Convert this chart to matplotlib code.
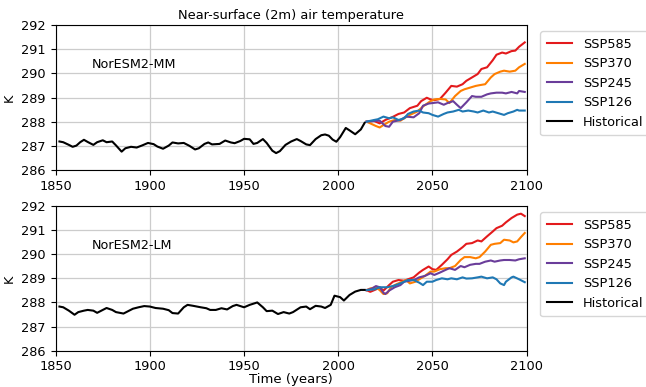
import matplotlib
matplotlib.use("Agg")
import matplotlib.pyplot as plt

plt.rcParams["font.family"] = ["DejaVu Sans"]
plt.rcParams["font.size"] = 9

# ---------------- NorESM2-MM ----------------
mm_hist_years = [1852, 1854, 1857, 1859, 1861, 1863, 1865, 1867, 1870, 1872, 1875, 1877,
                 1880, 1882, 1885, 1887, 1890, 1893, 1896, 1899, 1902, 1904, 1907, 1910,
                 1912, 1915, 1918, 1921, 1924, 1926, 1929, 1931, 1933, 1937, 1940, 1943,
                 1945, 1948, 1950, 1953, 1955, 1957, 1960, 1962, 1965, 1967, 1969, 1972,
                 1975, 1978, 1980, 1983, 1985, 1988, 1991, 1993, 1995, 1997, 1999, 2001,
                 2004, 2006, 2009, 2012, 2014]
mm_hist_temp = [287.18, 287.15, 287.04, 286.96, 287.01, 287.15, 287.25, 287.16, 287.04, 287.15,
                287.23, 287.15, 287.18, 287.02, 286.76, 286.90, 286.96, 286.93, 287.02, 287.12,
                287.07, 286.97, 286.88, 287.01, 287.14, 287.10, 287.12, 287.00, 286.85, 286.90,
                287.08, 287.14, 287.06, 287.08, 287.22, 287.14, 287.11, 287.20, 287.29, 287.27,
                287.08, 287.12, 287.28, 287.12, 286.80, 286.70, 286.78, 287.04, 287.18, 287.28,
                287.20, 287.06, 287.03, 287.28, 287.44, 287.47, 287.42, 287.26, 287.17, 287.36,
                287.74, 287.64, 287.48, 287.68, 287.95]

mm_585_years = [2015, 2019, 2022, 2025, 2029, 2032, 2035, 2038, 2042, 2044, 2047, 2049, 2051,
                2054, 2057, 2060, 2063, 2066, 2068, 2071, 2074, 2076, 2079, 2082, 2084, 2087,
                2089, 2092, 2094, 2096, 2099]
mm_585_temp = [288.00, 288.03, 287.93, 288.07, 288.20, 288.32, 288.38, 288.56, 288.66, 288.85,
               288.99, 288.92, 288.89, 288.94, 289.20, 289.48, 289.45, 289.55, 289.69, 289.83,
               289.97, 290.18, 290.25, 290.54, 290.77, 290.86, 290.82, 290.92, 290.94, 291.10,
               291.28]

mm_370_years = [2015, 2017, 2020, 2022, 2024, 2027, 2030, 2033, 2035, 2038, 2042, 2045, 2049,
                2051, 2054, 2057, 2059, 2062, 2065, 2067, 2070, 2073, 2075, 2078, 2081, 2083,
                2086, 2088, 2091, 2094, 2096, 2099]
mm_370_temp = [288.00, 287.93, 287.82, 287.76, 287.86, 288.00, 288.07, 288.04, 288.14, 288.28,
               288.42, 288.63, 288.85, 288.92, 288.94, 288.92, 288.77, 289.06, 289.27, 289.34,
               289.41, 289.48, 289.51, 289.55, 289.83, 289.97, 290.07, 290.11, 290.07, 290.11,
               290.25, 290.39]

mm_245_years = [2015, 2019, 2022, 2025, 2027, 2029, 2033, 2036, 2040, 2043, 2045, 2048, 2050,
                2053, 2056, 2058, 2061, 2063, 2065, 2068, 2071, 2073, 2076, 2079, 2081, 2084,
                2087, 2089, 2092, 2095, 2096, 2099]
mm_245_temp = [288.00, 288.03, 288.04, 287.82, 287.79, 288.00, 288.07, 288.21, 288.18, 288.35,
               288.66, 288.75, 288.77, 288.80, 288.70, 288.77, 288.85, 288.70, 288.56, 288.80,
               289.06, 289.03, 289.03, 289.13, 289.17, 289.20, 289.20, 289.17, 289.23, 289.17,
               289.27, 289.23]

mm_126_years = [2015, 2019, 2021, 2024, 2027, 2029, 2032, 2035, 2037, 2040, 2043, 2045, 2048,
                2050, 2053, 2056, 2058, 2061, 2064, 2066, 2069, 2072, 2074, 2077, 2080, 2082,
                2085, 2088, 2090, 2093, 2095, 2096, 2099]
mm_126_temp = [288.00, 288.07, 288.10, 288.21, 288.14, 288.18, 288.07, 288.14, 288.32, 288.42,
               288.46, 288.38, 288.35, 288.28, 288.21, 288.32, 288.38, 288.42, 288.49, 288.42,
               288.46, 288.42, 288.38, 288.46, 288.38, 288.42, 288.35, 288.28, 288.35, 288.42,
               288.49, 288.46, 288.46]

# ---------------- NorESM2-LM ----------------
lm_hist_years = [1852, 1854, 1857, 1860, 1862, 1865, 1867, 1870, 1872, 1874, 1877, 1880,
                 1882, 1886, 1888, 1891, 1894, 1897, 1900, 1903, 1907, 1910, 1912, 1915,
                 1918, 1920, 1923, 1927, 1930, 1932, 1935, 1938, 1941, 1944, 1946, 1950,
                 1953, 1957, 1960, 1962, 1965, 1968, 1971, 1974, 1976, 1980, 1983, 1985,
                 1988, 1991, 1993, 1996, 1998, 2001, 2003, 2006, 2009, 2012, 2014]
lm_hist_temp = [287.83, 287.80, 287.66, 287.49, 287.60, 287.66, 287.69, 287.66, 287.57, 287.65,
                287.77, 287.69, 287.60, 287.54, 287.62, 287.74, 287.80, 287.85, 287.83, 287.77,
                287.74, 287.68, 287.56, 287.54, 287.80, 287.90, 287.86, 287.80, 287.76, 287.69,
                287.69, 287.76, 287.71, 287.85, 287.90, 287.80, 287.90, 288.00, 287.80, 287.64,
                287.66, 287.52, 287.60, 287.54, 287.60, 287.80, 287.83, 287.72, 287.86, 287.83,
                287.77, 287.90, 288.28, 288.22, 288.08, 288.31, 288.45, 288.52, 288.52]

lm_585_years = [2015, 2017, 2020, 2022, 2024, 2027, 2029, 2032, 2035, 2037, 2040, 2043, 2045,
                2048, 2050, 2052, 2055, 2058, 2060, 2063, 2066, 2068, 2071, 2074, 2076, 2079,
                2082, 2084, 2087, 2089, 2092, 2095, 2097, 2099]
lm_585_temp = [288.51, 288.44, 288.54, 288.63, 288.49, 288.72, 288.86, 288.93, 288.90, 288.96,
               289.04, 289.24, 289.35, 289.49, 289.38, 289.35, 289.56, 289.79, 289.97, 290.11,
               290.29, 290.43, 290.46, 290.57, 290.53, 290.74, 290.94, 291.08, 291.18, 291.32,
               291.50, 291.64, 291.68, 291.58]

lm_370_years = [2015, 2017, 2020, 2022, 2024, 2026, 2028, 2031, 2034, 2036, 2038, 2041, 2043,
                2046, 2049, 2051, 2054, 2057, 2059, 2062, 2065, 2067, 2070, 2073, 2075, 2078,
                2081, 2083, 2086, 2088, 2091, 2093, 2095, 2097, 2099]
lm_370_temp = [288.51, 288.58, 288.63, 288.51, 288.35, 288.38, 288.63, 288.76, 288.86, 288.93,
               288.79, 288.86, 288.96, 289.10, 289.28, 289.28, 289.38, 289.42, 289.42, 289.51,
               289.76, 289.88, 289.88, 289.83, 289.88, 290.11, 290.39, 290.43, 290.46, 290.60,
               290.57, 290.49, 290.53, 290.71, 290.88]

lm_245_years = [2015, 2018, 2020, 2022, 2024, 2025, 2027, 2030, 2033, 2035, 2038, 2041, 2043,
                2046, 2049, 2051, 2054, 2057, 2059, 2062, 2065, 2067, 2070, 2073, 2075, 2078,
                2081, 2083, 2086, 2088, 2091, 2094, 2096, 2099]
lm_245_temp = [288.51, 288.58, 288.68, 288.63, 288.40, 288.35, 288.49, 288.63, 288.72, 288.86,
               288.90, 288.96, 289.04, 289.10, 289.21, 289.14, 289.24, 289.35, 289.42, 289.35,
               289.51, 289.46, 289.56, 289.60, 289.60, 289.69, 289.74, 289.69, 289.74, 289.76,
               289.76, 289.74, 289.79, 289.83]

lm_126_years = [2015, 2019, 2022, 2026, 2029, 2032, 2035, 2037, 2040, 2043, 2045, 2047, 2050,
                2052, 2055, 2058, 2060, 2063, 2066, 2068, 2071, 2074, 2076, 2079, 2082, 2084,
                2086, 2088, 2089, 2092, 2093, 2096, 2099]
lm_126_temp = [288.51, 288.54, 288.63, 288.63, 288.68, 288.76, 288.86, 288.93, 288.93, 288.82,
               288.72, 288.86, 288.86, 288.93, 289.00, 288.96, 289.00, 288.96, 289.04, 288.99,
               289.00, 289.04, 289.07, 289.00, 289.04, 288.96, 288.79, 288.72, 288.86, 289.04,
               289.07, 288.96, 288.84]

scenario_labels = ["SSP585", "SSP370", "SSP245", "SSP126"]
scenario_colors = ["#e31a1c", "#ff7f00", "#6a3d9a", "#1f78b4"]
hist_label = "Historical"
model_names = ["NorESM2-MM", "NorESM2-LM"]
x_ticks = [1850, 1900, 1950, 2000, 2050, 2100]
y_ticks = [286, 287, 288, 289, 290, 291, 292]

panels = [
    (mm_hist_years, mm_hist_temp,
     [(mm_585_years, mm_585_temp), (mm_370_years, mm_370_temp),
      (mm_245_years, mm_245_temp), (mm_126_years, mm_126_temp)]),
    (lm_hist_years, lm_hist_temp,
     [(lm_585_years, lm_585_temp), (lm_370_years, lm_370_temp),
      (lm_245_years, lm_245_temp), (lm_126_years, lm_126_temp)]),
]

fig = plt.figure(figsize=(6.46, 3.87), dpi=100)
ax_top = fig.add_axes([0.0862, 0.5607, 0.729, 0.3747])
ax_bot = fig.add_axes([0.0862, 0.0938, 0.729, 0.3740])

for ax, name, (hy, ht, scen) in zip([ax_top, ax_bot], model_names, panels):
    for (yrs, vals), lab, col in zip(scen, scenario_labels, scenario_colors):
        ax.plot(yrs, vals, color=col, lw=1.5, label=lab)
    ax.plot(hy, ht, color="black", lw=1.5, label=hist_label)
    ax.set_xlim(1850, 2100)
    ax.set_ylim(286, 292)
    ax.set_xticks(x_ticks)
    ax.set_yticks(y_ticks)
    ax.tick_params(labelsize=9.3)
    ax.grid(True, color="#cccccc", lw=0.9)
    ax.set_axisbelow(True)
    ax.set_ylabel("K", fontsize=9.3)
    ax.text(1869, 290.38, name, ha="left", va="center", fontsize=9.2)
    ax.legend(loc="upper left", bbox_to_anchor=(1.015, 1.0), fontsize=9.3,
              borderaxespad=0.5, borderpad=0.5)

ax_top.set_title("Near-surface (2m) air temperature", fontsize=9.4, pad=4)
ax_bot.set_xlabel("Time (years)", fontsize=9.5, labelpad=0)

fig.savefig("out.png", dpi=100)
